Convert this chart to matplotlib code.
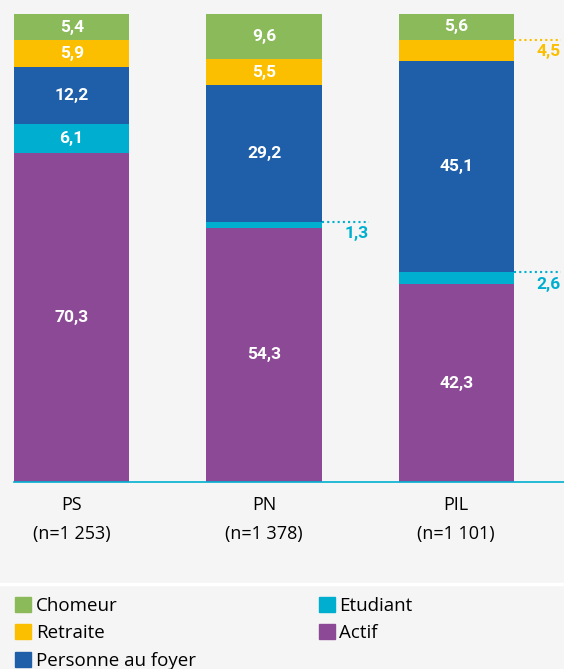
import matplotlib
matplotlib.use("Agg")
import matplotlib.pyplot as plt
from matplotlib.patches import Patch

# Données
categories = ["PS\n(n=1 253)", "PN\n(n=1 378)", "PIL\n(n=1 101)"]
actif = [70.3, 54.3, 42.3]
etudiant = [6.1, 1.3, 2.6]
foyer = [12.2, 29.2, 45.1]
retraite = [5.9, 5.5, 4.5]
chomeur = [5.4, 9.6, 5.6]

series = [
    ("Actif", actif, "#8c4a96"),
    ("Etudiant", etudiant, "#00afd0"),
    ("Personne au foyer", foyer, "#1f5ea8"),
    ("Retraite", retraite, "#fbbf00"),
    ("Chomeur", chomeur, "#8aba5a"),
]

# petites valeurs écrites à côté de la barre : (série, barre)
outside = {(1, 1), (1, 2), (3, 2)}

bg = "#f5f5f5"
plt.rcParams["font.family"] = ["Open Sans", "DejaVu Sans"]

fig = plt.figure(figsize=(5.64, 6.69), dpi=100, facecolor=bg)
ax = fig.add_axes([14 / 564, 1 - 482 / 669, 550 / 564, 468 / 669])
ax.set_facecolor(bg)

x = range(len(categories))
width = 0.6
bottom = [0.0] * len(categories)
for si, (name, vals, col) in enumerate(series):
    ax.bar(x, vals, width, bottom=bottom, color=col, label=name)
    for i, v in enumerate(vals):
        txt = f"{v:.1f}".replace(".", ",")
        if (si, i) in outside:
            top = bottom[i] + v
            x0 = i + width / 2
            x1 = x0 + 0.245
            ax.plot([x0, x1], [top, top], color=col, lw=1.5, ls=(0, (1, 1.5)))
            ax.text(x1, top - 1.0, txt, ha="right", va="top", color=col,
                    fontsize=12.5, fontweight="bold", family="Roboto")
        else:
            ax.text(i, bottom[i] + v / 2, txt, ha="center", va="center",
                    color="white", fontsize=12.5, fontweight="bold", family="Roboto")
    bottom = [b + v for b, v in zip(bottom, vals)]

ax.set_xlim(-0.3, 2.56)
ax.set_ylim(0, 100)
ax.set_yticks([])
ax.set_xticks(list(x))
ax.set_xticklabels(categories, fontsize=13, linespacing=1.8)
ax.tick_params(axis="x", length=0, pad=10)
for s in ["top", "right", "left"]:
    ax.spines[s].set_visible(False)
ax.spines["bottom"].set_color("#00afd0")
ax.spines["bottom"].set_linewidth(1.2)

# ligne blanche de séparation
fig.add_artist(plt.Line2D([0, 1], [1 - 584 / 669] * 2, color="white", lw=2.5))

order = ["Chomeur", "Retraite", "Personne au foyer", "Etudiant", "Actif"]
cols = {n: c for n, _, c in series}
handles = [Patch(color=cols[n], label=n) for n in order]
fig.legend(handles=handles, loc="upper left", bbox_to_anchor=(0.027, 1 - 597 / 669),
           ncol=2, frameon=False, fontsize=13.5, handlelength=0.85, handleheight=0.85,
           handletextpad=0.25, labelspacing=0.5, columnspacing=6.55, borderaxespad=0,
           borderpad=0)

fig.savefig("out.png", dpi=100, facecolor=bg)
